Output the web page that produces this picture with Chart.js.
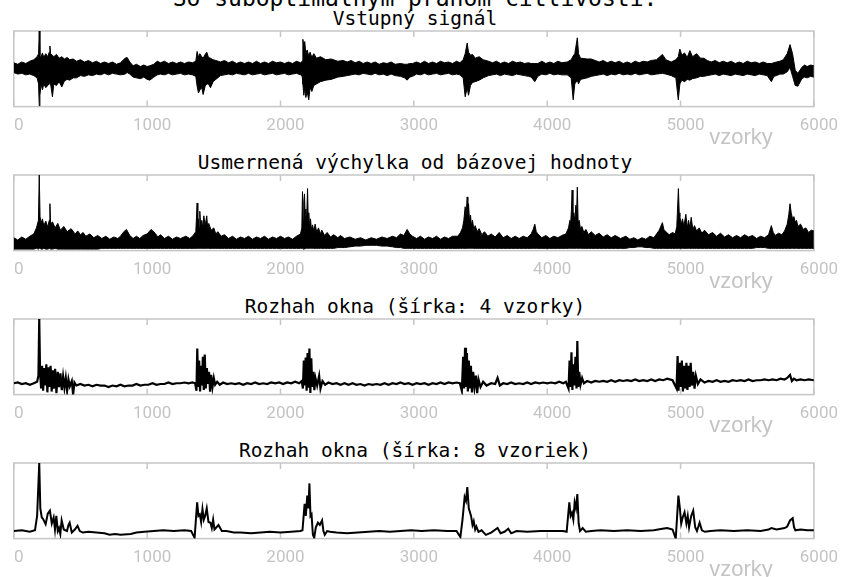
<!DOCTYPE html>
<html>
<head>
<meta charset="utf-8">
<script src="https://cdn.jsdelivr.net/npm/chart.js@4"></script>
<style>
  html, body { margin: 0; padding: 0; background: #fff; }
  body { position: relative; width: 842px; height: 577px; overflow: hidden; }
  .panel { position: absolute; left: 0; width: 842px; }
  .title {
    position: absolute; left: 0; width: 830px; text-align: center;
    font-family: "DejaVu Sans Mono", monospace; font-size: 19.5px; line-height: 22px;
    color: #000; white-space: nowrap;
  }
  .main { font-size: 23px; line-height: 26px; }
  .xlabel {
    position: absolute; width: 120px; left: 681px; text-align: center;
    font-family: "Liberation Sans", Arial, sans-serif; font-size: 22px; line-height: 22px;
    color: #c4c4c4;
  }
</style>
</head>
<body>
<script>
const SAMPLE_MAX = 6000;
const TICK_STEP = 1000;

const mainTitle = "So suboptimálnym prahom citlivosti:";
const panelTitles = [
  "Vstupný signál",
  "Usmernená výchylka od bázovej hodnoty",
  "Rozhah okna (šírka: 4 vzorky)",
  "Rozhah okna (šírka: 8 vzoriek)",
];
const xAxisLabel = "vzorky";

// [sample, upper edge, lower edge] of the dense trace, 0..100 of the box height
const inputEnvelope = [
  [0, 58, 45], [30, 56, 43], [60, 59, 44], [90, 57, 42], [120, 60, 43], [150, 62, 41], [175, 66, 38],
  [186, 70, 30], [191, 100, 1], [196, 68, 15], [205, 66, 30], [215, 71, 22], [225, 65, 30],
  [240, 70, 25], [255, 66, 28], [266, 72, 30], [271, 80, 32], [276, 70, 30], [290, 68, 13],
  [300, 66, 30], [320, 69, 28], [340, 64, 33], [360, 66, 26], [380, 63, 34], [400, 65, 36],
  [420, 62, 35], [445, 63, 38], [470, 60, 38], [500, 62, 41], [530, 59, 40], [560, 61, 42],
  [590, 58, 41], [620, 60, 43], [650, 57, 42], [680, 59, 44], [710, 57, 42], [740, 59, 44],
  [770, 56, 43], [800, 58, 42], [835, 64, 43], [850, 65, 45], [870, 59, 43], [895, 54, 39],
  [920, 56, 38], [950, 53, 37], [975, 55, 39], [1000, 53, 36], [1020, 54, 35], [1050, 56, 39],
  [1076, 60, 42], [1100, 58, 43], [1130, 60, 42], [1160, 57, 44], [1190, 59, 42], [1220, 57, 43],
  [1250, 59, 44], [1280, 57, 42], [1310, 59, 43], [1340, 58, 42], [1365, 60, 40], [1375, 73, 27],
  [1385, 65, 18], [1395, 70, 22], [1410, 66, 25], [1420, 64, 16], [1435, 69, 27], [1447, 72, 30],
  [1460, 65, 30], [1475, 64, 25], [1495, 62, 33], [1515, 61, 36], [1550, 59, 41], [1580, 61, 42],
  [1610, 58, 43], [1640, 60, 42], [1670, 57, 44], [1700, 59, 43], [1730, 57, 42], [1760, 59, 44],
  [1790, 57, 42], [1820, 60, 43], [1850, 57, 44], [1880, 59, 42], [1910, 57, 43], [1940, 60, 44],
  [1970, 58, 42], [2000, 59, 43], [2030, 57, 44], [2060, 59, 42], [2090, 57, 43], [2120, 60, 44],
  [2150, 58, 42], [2163, 60, 40], [2168, 89, 30], [2175, 80, 15], [2182, 86, 25], [2190, 70, 12],
  [2200, 75, 20], [2212, 67, 9], [2222, 72, 25], [2235, 65, 20], [2250, 70, 28], [2270, 64, 30],
  [2300, 66, 33], [2340, 62, 35], [2380, 63, 36], [2430, 60, 39], [2470, 61, 40], [2500, 59, 41],
  [2530, 61, 42], [2560, 58, 43], [2590, 60, 42], [2620, 57, 44], [2650, 59, 43], [2680, 57, 42],
  [2710, 59, 44], [2740, 56, 42], [2770, 58, 43], [2800, 57, 41], [2830, 59, 43], [2860, 56, 41],
  [2900, 57, 40], [2930, 56, 38], [2950, 56, 35], [2970, 57, 39], [2990, 57, 40], [3020, 59, 43],
  [3050, 57, 42], [3080, 60, 44], [3110, 57, 42], [3140, 59, 43], [3170, 57, 44], [3200, 60, 42],
  [3230, 58, 43], [3260, 59, 44], [3290, 57, 42], [3320, 60, 43], [3345, 58, 42], [3370, 62, 38],
  [3385, 70, 13], [3400, 84, 25], [3410, 72, 15], [3425, 68, 28], [3440, 69, 32], [3460, 64, 33],
  [3490, 66, 35], [3520, 62, 38], [3560, 60, 41], [3590, 58, 42], [3620, 60, 43], [3650, 57, 41],
  [3680, 59, 43], [3710, 57, 42], [3740, 60, 41], [3770, 58, 43], [3800, 59, 42], [3830, 57, 41],
  [3860, 58, 40], [3880, 57, 39], [3907, 57, 33], [3930, 57, 40], [3960, 60, 43], [3990, 57, 42],
  [4020, 59, 44], [4050, 57, 42], [4080, 60, 43], [4110, 58, 42], [4150, 59, 42], [4180, 62, 38],
  [4195, 67, 9], [4207, 70, 30], [4226, 91, 35], [4235, 70, 30], [4250, 64, 36], [4300, 63, 38],
  [4330, 63, 40], [4360, 61, 41], [4390, 59, 42], [4420, 61, 43], [4450, 58, 41], [4480, 60, 43],
  [4510, 58, 42], [4540, 60, 44], [4570, 57, 42], [4600, 59, 43], [4630, 57, 42], [4660, 60, 44],
  [4690, 58, 42], [4720, 60, 43], [4750, 59, 44], [4780, 61, 42], [4820, 62, 43], [4864, 69, 44],
  [4890, 62, 43], [4930, 59, 41], [4965, 62, 38], [4983, 66, 9], [4995, 76, 30], [5010, 68, 35],
  [5030, 71, 33], [5050, 65, 36], [5070, 74, 35], [5090, 66, 37], [5120, 70, 38], [5150, 64, 40],
  [5175, 64, 40], [5200, 61, 41], [5230, 59, 42], [5260, 61, 43], [5290, 58, 41], [5320, 60, 43],
  [5350, 58, 42], [5380, 60, 41], [5410, 57, 43], [5440, 59, 42], [5470, 57, 41], [5500, 60, 43],
  [5530, 58, 42], [5560, 59, 41], [5590, 57, 43], [5620, 59, 42], [5650, 57, 41], [5681, 57, 33],
  [5700, 58, 40], [5720, 59, 41], [5745, 60, 43], [5770, 62, 43], [5800, 70, 46], [5821, 82, 52],
  [5840, 70, 40], [5860, 48, 28], [5880, 44, 27], [5910, 52, 37], [5930, 55, 39], [5950, 53, 38],
  [5975, 55, 40], [6000, 54, 39],
];

const rectifiedEnvelope = [
  [0, 17, 2], [30, 14, 2], [60, 18, 2], [90, 15, 2], [120, 19, 2], [150, 22, 2], [170, 30, 3],
  [185, 40, 2], [191, 100, 3], [197, 45, 3], [205, 36, 2], [215, 42, 2], [225, 33, 3], [240, 39, 2],
  [255, 31, 2], [266, 40, 3], [271, 62, 3], [276, 35, 2], [290, 38, 2], [310, 30, 3], [330, 36, 2],
  [350, 27, 2], [375, 32, 2], [400, 25, 2], [430, 29, 2], [460, 22, 2], [480, 26, 2], [500, 21, 2],
  [520, 24, 2], [540, 19, 2], [570, 22, 2], [600, 17, 2], [630, 20, 2], [660, 16, 3], [690, 19, 3],
  [720, 15, 3], [750, 18, 3], [780, 16, 3], [800, 19, 3], [820, 24, 3], [845, 28, 3], [870, 20, 3],
  [895, 16, 3], [920, 19, 3], [945, 16, 3], [970, 20, 3], [1000, 22, 3], [1030, 28, 3], [1060, 23, 3],
  [1080, 18, 3], [1100, 21, 3], [1130, 16, 3], [1160, 19, 3], [1190, 15, 3], [1220, 18, 3],
  [1250, 16, 3], [1290, 19, 3], [1320, 16, 3], [1345, 20, 3], [1365, 25, 3], [1375, 63, 3],
  [1380, 30, 3], [1385, 42, 3], [1390, 30, 3], [1395, 52, 3], [1402, 32, 3], [1410, 40, 3],
  [1418, 30, 3], [1425, 46, 3], [1435, 33, 3], [1447, 46, 3], [1455, 28, 3], [1462, 36, 3],
  [1480, 27, 3], [1500, 30, 3], [1515, 22, 3], [1530, 25, 3], [1555, 19, 3], [1580, 21, 3],
  [1610, 16, 3], [1640, 19, 3], [1670, 15, 3], [1700, 18, 3], [1730, 16, 3], [1760, 19, 3],
  [1790, 15, 3], [1820, 18, 3], [1850, 16, 3], [1880, 19, 3], [1910, 15, 3], [1940, 18, 3],
  [1970, 16, 3], [2000, 19, 3], [2030, 16, 3], [2060, 18, 3], [2090, 15, 3], [2120, 19, 3],
  [2150, 22, 3], [2160, 30, 3], [2165, 78, 3], [2170, 40, 2], [2175, 65, 2], [2180, 75, 2],
  [2185, 45, 3], [2190, 55, 3], [2196, 38, 3], [2203, 82, 3], [2208, 40, 3], [2212, 50, 3],
  [2218, 32, 3], [2225, 42, 3], [2232, 28, 3], [2240, 34, 3], [2250, 26, 3], [2260, 35, 3],
  [2272, 24, 3], [2285, 30, 3], [2300, 22, 3], [2310, 27, 3], [2330, 20, 3], [2350, 24, 3],
  [2375, 18, 3], [2400, 21, 3], [2430, 17, 4], [2450, 20, 4], [2480, 16, 4], [2520, 18, 5],
  [2560, 15, 6], [2600, 17, 6], [2640, 14, 7], [2680, 17, 7], [2720, 15, 7], [2760, 18, 6],
  [2800, 16, 6], [2840, 19, 5], [2870, 17, 4], [2900, 22, 4], [2925, 20, 3], [2950, 28, 3],
  [2970, 22, 3], [2990, 19, 3], [3020, 16, 3], [3050, 19, 3], [3080, 15, 3], [3110, 18, 3],
  [3140, 16, 3], [3170, 19, 3], [3200, 15, 3], [3230, 18, 3], [3260, 16, 3], [3290, 19, 3],
  [3330, 19, 3], [3350, 24, 3], [3365, 30, 3], [3375, 40, 3], [3385, 58, 3], [3392, 45, 3],
  [3400, 71, 3], [3405, 50, 3], [3410, 62, 3], [3418, 38, 3], [3425, 47, 3], [3432, 33, 3],
  [3440, 40, 3], [3450, 28, 3], [3460, 33, 3], [3475, 25, 3], [3490, 29, 3], [3510, 21, 3],
  [3530, 25, 3], [3555, 19, 3], [3580, 22, 3], [3610, 18, 3], [3640, 24, 3], [3670, 17, 3],
  [3700, 20, 3], [3730, 16, 3], [3760, 19, 3], [3790, 16, 3], [3820, 19, 3], [3850, 17, 3],
  [3880, 22, 3], [3895, 28, 3], [3907, 35, 3], [3918, 25, 3], [3930, 22, 3], [3960, 17, 3],
  [3990, 20, 3], [4020, 16, 3], [4050, 19, 3], [4080, 17, 3], [4110, 20, 3], [4140, 22, 3],
  [4160, 30, 3], [4170, 40, 3], [4176, 35, 3], [4182, 55, 3], [4187, 80, 3], [4193, 40, 3],
  [4200, 50, 3], [4207, 38, 3], [4215, 60, 3], [4220, 45, 3], [4226, 84, 3], [4232, 38, 3],
  [4240, 40, 3], [4250, 28, 3], [4260, 32, 3], [4275, 24, 3], [4290, 28, 3], [4310, 21, 3],
  [4330, 25, 3], [4360, 20, 3], [4390, 23, 3], [4420, 18, 3], [4450, 21, 3], [4480, 17, 3],
  [4510, 20, 3], [4550, 16, 3], [4590, 19, 3], [4620, 15, 4], [4650, 17, 4], [4680, 14, 5],
  [4710, 17, 5], [4740, 15, 4], [4770, 19, 4], [4800, 17, 3], [4820, 22, 3], [4840, 27, 3],
  [4864, 37, 3], [4875, 28, 3], [4890, 25, 3], [4915, 21, 3], [4940, 24, 3], [4960, 22, 3],
  [4972, 32, 3], [4984, 82, 3], [4990, 50, 3], [4995, 45, 3], [5005, 35, 3], [5015, 42, 3],
  [5025, 32, 3], [5040, 48, 3], [5050, 30, 3], [5060, 40, 3], [5070, 30, 3], [5080, 44, 3],
  [5092, 28, 3], [5105, 33, 3], [5120, 26, 3], [5140, 30, 3], [5160, 23, 3], [5180, 27, 3],
  [5210, 21, 3], [5240, 24, 3], [5270, 19, 3], [5300, 23, 3], [5330, 18, 3], [5360, 21, 3],
  [5390, 17, 3], [5420, 20, 3], [5450, 17, 3], [5480, 21, 3], [5510, 18, 3], [5540, 20, 3],
  [5570, 16, 4], [5600, 19, 4], [5630, 17, 4], [5660, 21, 3], [5681, 33, 3], [5695, 24, 3],
  [5710, 20, 3], [5735, 23, 3], [5760, 21, 3], [5780, 26, 3], [5800, 35, 3], [5812, 48, 3],
  [5821, 62, 3], [5830, 50, 3], [5840, 42, 3], [5850, 45, 3], [5860, 38, 3], [5870, 40, 3],
  [5880, 32, 3], [5900, 35, 3], [5920, 28, 3], [5940, 30, 3], [5960, 24, 3], [5980, 27, 3],
  [6000, 26, 3],
];

// [sample, value] of the thin traces, 0..100 of the box height
const range4Trace = [
  [0, 15], [30, 16], [60, 14], [90, 15], [120, 13], [150, 15], [175, 17], [185, 25], [191, 100],
  [197, 30], [205, 8], [212, 38], [220, 5], [228, 35], [236, 12], [244, 40], [252, 3], [260, 36],
  [268, 10], [276, 38], [284, 4], [292, 32], [300, 8], [310, 34], [320, 2], [330, 30], [340, 10],
  [350, 28], [360, 6], [370, 24], [380, 9], [390, 22], [400, 5], [410, 20], [420, 11], [435, 18],
  [445, 0], [455, 16], [470, 12], [500, 14], [530, 12], [560, 13], [590, 11], [620, 13], [650, 12],
  [680, 12], [710, 10], [740, 12], [770, 11], [800, 13], [830, 11], [860, 12], [890, 12], [920, 14],
  [950, 12], [980, 13], [1010, 13], [1040, 15], [1070, 13], [1100, 14], [1130, 14], [1160, 16],
  [1190, 14], [1220, 15], [1250, 15], [1280, 16], [1310, 15], [1340, 16], [1360, 15], [1370, 5],
  [1376, 61], [1383, 10], [1390, 45], [1397, 4], [1404, 38], [1411, 12], [1418, 50], [1425, 6],
  [1432, 53], [1440, 8], [1448, 35], [1456, 14], [1464, 30], [1472, 4], [1480, 26], [1490, 10],
  [1500, 22], [1510, 13], [1525, 17], [1545, 13], [1570, 16], [1600, 14], [1630, 15], [1660, 14],
  [1690, 15], [1720, 13], [1750, 15], [1780, 14], [1810, 16], [1840, 14], [1870, 15], [1900, 14],
  [1930, 16], [1960, 15], [1990, 16], [2020, 14], [2050, 16], [2080, 15], [2110, 17], [2140, 15],
  [2160, 18], [2168, 8], [2175, 45], [2182, 12], [2189, 49], [2196, 5], [2203, 55], [2210, 9],
  [2217, 61], [2224, 2], [2231, 48], [2238, 10], [2246, 30], [2254, 6], [2262, 22], [2275, 12],
  [2290, 25], [2300, 8], [2315, 18], [2335, 13], [2360, 16], [2390, 14], [2420, 15], [2450, 13],
  [2480, 15], [2510, 13], [2540, 15], [2570, 13], [2600, 14], [2630, 12], [2660, 14], [2690, 13],
  [2720, 14], [2750, 13], [2780, 15], [2810, 13], [2840, 15], [2870, 14], [2900, 16], [2930, 14],
  [2960, 15], [2990, 13], [3020, 15], [3050, 14], [3080, 15], [3110, 13], [3140, 15], [3170, 14],
  [3200, 16], [3230, 14], [3260, 16], [3290, 15], [3320, 16], [3345, 15], [3360, 5], [3370, 50],
  [3377, 8], [3384, 62], [3391, 10], [3398, 55], [3405, 4], [3412, 45], [3420, 8], [3428, 38],
  [3436, 3], [3445, 30], [3455, 10], [3465, 25], [3475, 2], [3485, 20], [3500, 10], [3520, 17],
  [3545, 12], [3580, 15], [3610, 14], [3628, 22], [3645, 12], [3670, 15], [3700, 14], [3730, 16],
  [3760, 14], [3790, 15], [3820, 14], [3850, 16], [3880, 14], [3910, 16], [3940, 15], [3970, 16],
  [4000, 15], [4030, 16], [4060, 15], [4090, 17], [4120, 15], [4140, 17], [4160, 8], [4168, 45],
  [4175, 10], [4182, 56], [4189, 6], [4196, 40], [4203, 12], [4212, 50], [4220, 8], [4226, 71],
  [4233, 10], [4240, 30], [4250, 13], [4262, 22], [4275, 15], [4300, 18], [4330, 16], [4360, 18],
  [4390, 17], [4420, 18], [4450, 17], [4480, 19], [4510, 17], [4540, 19], [4570, 18], [4600, 19],
  [4630, 18], [4660, 20], [4690, 18], [4720, 19], [4750, 18], [4780, 20], [4810, 18], [4840, 20],
  [4870, 19], [4900, 21], [4940, 19], [4970, 8], [4978, 51], [4985, 5], [4992, 42], [5000, 10],
  [5010, 45], [5018, 4], [5026, 38], [5035, 8], [5044, 42], [5052, 6], [5060, 38], [5068, 10],
  [5076, 42], [5085, 12], [5095, 30], [5105, 8], [5115, 25], [5130, 14], [5150, 20], [5180, 16],
  [5210, 18], [5240, 17], [5270, 19], [5300, 17], [5330, 18], [5360, 17], [5390, 19], [5420, 18],
  [5450, 19], [5480, 18], [5510, 20], [5540, 18], [5570, 19], [5600, 19], [5630, 20], [5660, 19],
  [5690, 20], [5720, 19], [5750, 21], [5780, 20], [5800, 22], [5821, 26], [5835, 18], [5850, 21],
  [5870, 19], [5900, 20], [5930, 19], [5960, 20], [6000, 19],
];

const range8Trace = [
  [0, 10], [60, 11], [120, 9], [159, 11], [175, 30], [191, 100], [199, 40], [210, 28], [220, 26],
  [239, 19], [255, 33], [271, 37], [285, 20], [299, 28], [309, 12], [319, 30], [330, 10], [339, 14],
  [349, 6], [359, 24], [375, 12], [399, 10], [410, 18], [419, 21], [435, 8], [458, 12], [478, 17],
  [495, 10], [518, 8], [560, 9], [620, 8], [680, 7], [718, 5], [760, 6], [800, 5], [877, 6],
  [920, 8], [980, 9], [1050, 10], [1120, 11], [1200, 10], [1280, 11], [1330, 10], [1356, 1],
  [1375, 48], [1385, 30], [1395, 32], [1405, 22], [1415, 39], [1425, 25], [1435, 30], [1447, 40],
  [1460, 22], [1475, 21], [1485, 14], [1495, 25], [1505, 12], [1515, 14], [1535, 18], [1560, 10],
  [1595, 10], [1650, 8], [1700, 8], [1780, 7], [1850, 8], [1920, 9], [2000, 8], [2080, 9],
  [2150, 10], [2165, 11], [2181, 46], [2190, 30], [2201, 57], [2210, 40], [2217, 73], [2225, 30],
  [2233, 32], [2243, 5], [2253, 1], [2265, 15], [2281, 21], [2295, 18], [2312, 24], [2322, 10],
  [2332, 5], [2350, 10], [2372, 9], [2420, 8], [2500, 7], [2580, 8], [2660, 9], [2740, 10],
  [2820, 9], [2900, 10], [2980, 11], [3060, 10], [3150, 11], [3250, 10], [3320, 10], [3349, 2],
  [3365, 25], [3381, 55], [3391, 50], [3401, 68], [3412, 40], [3429, 30], [3440, 18], [3449, 23],
  [3460, 12], [3469, 16], [3485, 9], [3508, 11], [3540, 5], [3580, 8], [3628, 14], [3650, 7],
  [3680, 9], [3708, 13], [3730, 7], [3770, 10], [3850, 9], [3950, 10], [4050, 10], [4120, 10],
  [4146, 9], [4166, 48], [4176, 30], [4186, 34], [4196, 25], [4206, 48], [4216, 40], [4226, 59],
  [4236, 20], [4246, 10], [4266, 14], [4290, 9], [4330, 10], [4400, 11], [4500, 10], [4600, 11],
  [4700, 10], [4800, 11], [4864, 13], [4900, 14], [4940, 12], [4964, 0], [4984, 57], [4995, 40],
  [5005, 20], [5016, 28], [5030, 35], [5044, 20], [5054, 30], [5064, 15], [5080, 30], [5095, 37],
  [5110, 15], [5123, 10], [5143, 21], [5160, 11], [5183, 9], [5223, 10], [5300, 11], [5400, 10],
  [5500, 11], [5600, 10], [5660, 12], [5681, 14], [5720, 12], [5781, 14], [5800, 16], [5821, 24],
  [5841, 27], [5851, 15], [5861, 11], [5900, 12], [5950, 11], [6000, 11],
];

const BOX_TOPS = [31, 175, 319, 463];
const BOX_HEIGHT = 75;
const PAD_TOP = 4;
const TICK_PAD = 9;
const TICK_FONT = 17;
const AXIS_SPACE = 39;

const framePlugin = {
  id: "frame",
  beforeDatasetsDraw(chart) {
    const { ctx, chartArea: a, scales: { x } } = chart;
    ctx.save();
    ctx.strokeStyle = "#c6c6c6";
    ctx.lineWidth = 1.5;
    ctx.strokeRect(a.left, a.top, a.right - a.left, a.bottom - a.top);
    ctx.beginPath();
    x.ticks.forEach((t) => {
      const px = x.getPixelForValue(t.value);
      ctx.moveTo(px, a.top);
      ctx.lineTo(px, a.top + 6);
      ctx.moveTo(px, a.bottom);
      ctx.lineTo(px, a.bottom - 6);
    });
    ctx.stroke();
    ctx.restore();
  },
};

function envelopeDatasets(rows) {
  return [
    {
      data: rows.map((r) => ({ x: r[0], y: r[2] })),
      borderColor: "#000",
      borderWidth: 1,
      pointRadius: 0,
      fill: false,
    },
    {
      data: rows.map((r) => ({ x: r[0], y: r[1] })),
      borderColor: "#000",
      borderWidth: 1,
      pointRadius: 0,
      fill: "-1",
      backgroundColor: "#000",
    },
  ];
}

function traceDatasets(rows, width) {
  return [
    {
      data: rows.map((r) => ({ x: r[0], y: r[1] })),
      borderColor: "#000",
      borderWidth: width,
      pointRadius: 0,
      fill: false,
    },
  ];
}

function addText(cls, text, top) {
  const div = document.createElement("div");
  div.className = cls;
  div.style.top = top + "px";
  div.textContent = text;
  document.body.appendChild(div);
}

function buildPanel(index, datasets) {
  const top = BOX_TOPS[index];
  const height = PAD_TOP + BOX_HEIGHT + AXIS_SPACE;

  addText("title", panelTitles[index], top - 23);

  const wrap = document.createElement("div");
  wrap.className = "panel";
  wrap.style.top = (top - PAD_TOP) + "px";
  wrap.style.height = height + "px";
  const canvas = document.createElement("canvas");
  canvas.width = 842;
  canvas.height = height;
  wrap.appendChild(canvas);
  document.body.appendChild(wrap);

  addText("xlabel", xAxisLabel, top + BOX_HEIGHT + 20);

  new Chart(canvas, {
    type: "line",
    data: { datasets },
    options: {
      responsive: false,
      animation: false,
      devicePixelRatio: 1,
      layout: { autoPadding: false, padding: { left: 11, right: 23, top: PAD_TOP, bottom: 0 } },
      plugins: { legend: { display: false }, tooltip: { enabled: false } },
      elements: { line: { tension: 0 } },
      scales: {
        x: {
          type: "linear",
          min: 0,
          max: SAMPLE_MAX,
          grid: { display: false, drawTicks: false },
          border: { display: false },
          ticks: {
            stepSize: TICK_STEP,
            padding: TICK_PAD,
            labelOffset: 5,
            color: "#c4c4c4",
            font: { family: "Roboto, 'Liberation Sans', sans-serif", size: TICK_FONT, lineHeight: 1.2 },
            callback: (v) => String(v),
          },
        },
        y: { display: false, min: 0, max: 100 },
      },
    },
    plugins: [framePlugin],
  });
}

addText("title main", mainTitle, -15);
buildPanel(0, envelopeDatasets(inputEnvelope));
buildPanel(1, envelopeDatasets(rectifiedEnvelope));
buildPanel(2, traceDatasets(range4Trace, 2.2));
buildPanel(3, traceDatasets(range8Trace, 2));
</script>
</body>
</html>
